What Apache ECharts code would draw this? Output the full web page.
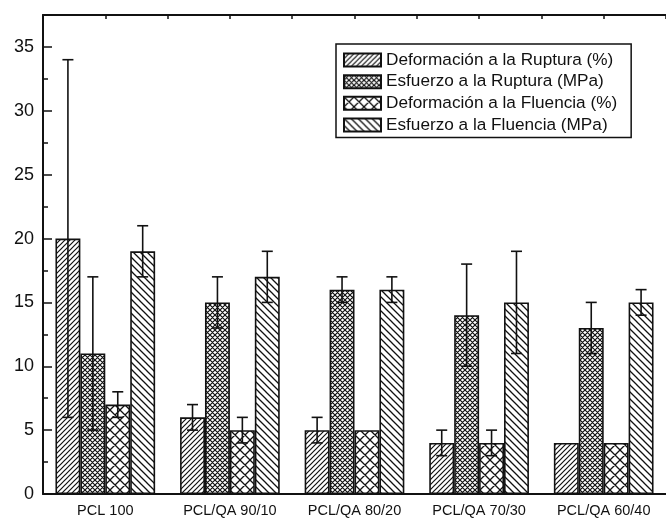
<!DOCTYPE html>
<html>
<head>
<meta charset="utf-8">
<script src="https://cdn.jsdelivr.net/npm/echarts@6/dist/echarts.min.js"></script>
<style>
  html, body { margin: 0; padding: 0; background: #fff; }
  #chart { width: 666px; height: 518px; }
</style>
</head>
<body>
<div id="chart"></div>
<script>
// Mechanical properties per formulation
const categories = ['PCL 100', 'PCL/QA 90/10', 'PCL/QA 80/20', 'PCL/QA 70/30', 'PCL/QA 60/40'];
const seriesNames = [
  'Deformación a la Ruptura (%)',
  'Esfuerzo a la Ruptura (MPa)',
  'Deformación a la Fluencia (%)',
  'Esfuerzo a la Fluencia (MPa)'
];
const defRuptura = [20, 6, 5, 4, 4];
const defRupturaErr = [14, 1, 1, 1, 0];
const esfRuptura = [11, 15, 16, 14, 13];
const esfRupturaErr = [6, 2, 1, 4, 2];
const defFluencia = [7, 5, 5, 4, 4];
const defFluenciaErr = [1, 1, 0, 1, 0];
const esfFluencia = [19, 17, 16, 15, 15];
const esfFluenciaErr = [2, 2, 1, 4, 1];
const yTicks = [0, 5, 10, 15, 20, 25, 30, 35];

const values = [defRuptura, esfRuptura, defFluencia, esfFluencia];
const errors = [defRupturaErr, esfRupturaErr, defFluenciaErr, esfFluenciaErr];

const FONT = '"Liberation Sans", Arial, sans-serif';
const INK = '#111';

// Hatch fills drawn on small tiles
function hatch(size, dirs, lw) {
  const c = document.createElement('canvas');
  c.width = size; c.height = size;
  const g = c.getContext('2d');
  g.fillStyle = '#fff';
  g.fillRect(0, 0, size, size);
  g.strokeStyle = INK;
  g.lineWidth = lw;
  g.beginPath();
  const s = size;
  if (dirs.indexOf('/') >= 0) {
    g.moveTo(-1, s + 1); g.lineTo(s + 1, -1);
    g.moveTo(-1, 1); g.lineTo(1, -1);
    g.moveTo(s - 1, s + 1); g.lineTo(s + 1, s - 1);
  }
  if (dirs.indexOf('\\') >= 0) {
    g.moveTo(-1, -1); g.lineTo(s + 1, s + 1);
    g.moveTo(-1, s - 1); g.lineTo(1, s + 1);
    g.moveTo(s - 1, -1); g.lineTo(s + 1, 1);
  }
  g.stroke();
  return { image: c, repeat: 'repeat' };
}

const fills = [
  hatch(5, '/', 1.2),
  hatch(5, '/\\', 1.2),
  hatch(10, '/\\', 1.3),
  hatch(7, '\\', 1.3)
];

const barSeries = seriesNames.map((name, i) => ({
  name: name,
  type: 'bar',
  xAxisIndex: 0,
  yAxisIndex: 0,
  barGap: '0%',
  barCategoryGap: '20%',
  data: values[i],
  itemStyle: { color: fills[i], borderColor: INK, borderWidth: 1.6 },
  emphasis: { disabled: true },
  z: 2
}));

// Error bar records: [category index, value, half-range, series index]
const errData = [];
values.forEach((arr, s) => {
  arr.forEach((v, c) => errData.push([c, v, errors[s][c], s]));
});

const errorSeries = {
  type: 'custom',
  xAxisIndex: 0,
  yAxisIndex: 0,
  z: 5,
  silent: true,
  encode: { x: 0, y: 1 },
  data: errData,
  renderItem: function (params, api) {
    const c = api.value(0), v = api.value(1), e = api.value(2), s = api.value(3);
    if (!e) return null;
    const catW = api.size([1, 0])[0];
    const barW = catW * 0.8 / 4;
    const center = api.coord([c, v]);
    const x = center[0] - catW * 0.4 + (s + 0.5) * barW;
    const yTop = api.coord([c, v + e])[1];
    const yBot = api.coord([c, v - e])[1];
    const cap = 5.5;
    const style = { stroke: INK, lineWidth: 1.6 };
    return {
      type: 'group',
      children: [
        { type: 'line', shape: { x1: x, y1: yTop, x2: x, y2: yBot }, style: style },
        { type: 'line', shape: { x1: x - cap, y1: yTop, x2: x + cap, y2: yTop }, style: style },
        { type: 'line', shape: { x1: x - cap, y1: yBot, x2: x + cap, y2: yBot }, style: style }
      ]
    };
  }
};

const chart = echarts.init(document.getElementById('chart'), null, { renderer: 'canvas' });
chart.setOption({
  animation: false,
  backgroundColor: '#fff',
  textStyle: { fontFamily: FONT },
  grid: { left: 43, right: -11, top: 15, bottom: 23, containLabel: false },
  legend: {
    data: seriesNames,
    orient: 'vertical',
    left: 336,
    top: 44,
    icon: 'rect',
    itemWidth: 37,
    itemHeight: 13,
    itemGap: 4.6,
    padding: [7.6, 14, 4, 7],
    borderColor: INK,
    borderWidth: 1.5,
    selectedMode: false,
    textStyle: { fontFamily: FONT, fontSize: 17.2, lineHeight: 16, color: INK }
  },
  xAxis: [
    {
      type: 'category',
      data: categories,
      position: 'bottom',
      axisLine: { lineStyle: { color: INK, width: 2 } },
      axisTick: { inside: true, length: 4, lineStyle: { color: INK, width: 1.5 } },
      axisLabel: { fontFamily: FONT, fontSize: 14.5, color: INK, margin: 9 },
      splitLine: { show: false }
    },
    {
      type: 'value',
      position: 'top',
      min: 0,
      max: 5,
      interval: 0.5,
      axisLine: { show: true, onZero: false, lineStyle: { color: INK, width: 2 } },
      axisTick: { show: true, inside: true, length: 4, lineStyle: { color: INK, width: 1.5 } },
      axisLabel: { show: false },
      splitLine: { show: false }
    }
  ],
  yAxis: {
    type: 'value',
    min: yTicks[0],
    max: 37.5,
    interval: yTicks[1] - yTicks[0],
    axisLine: { show: true, lineStyle: { color: INK, width: 2 } },
    axisTick: { show: true, inside: true, length: 9, lineStyle: { color: INK, width: 1.5 } },
    minorTick: { show: true, splitNumber: 2, length: 5, lineStyle: { color: INK, width: 1.5 } },
    axisLabel: {
      fontFamily: FONT, fontSize: 18, color: INK, margin: 9, showMaxLabel: false,
      formatter: function (v) { return yTicks.indexOf(v) >= 0 ? String(v) : ''; }
    },
    splitLine: { show: false }
  },
  series: barSeries.concat([errorSeries])
});
</script>
</body>
</html>
